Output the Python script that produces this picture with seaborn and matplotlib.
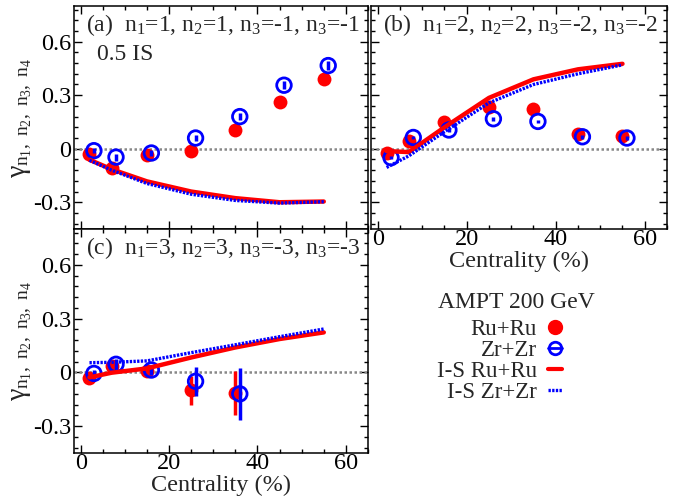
import matplotlib
matplotlib.use("Agg")
import matplotlib.pyplot as plt
from matplotlib.lines import Line2D
from matplotlib.ticker import FixedLocator, FixedFormatter, MultipleLocator
import seaborn as sns

# ---- data -------------------------------------------------------------
# centrality positions (%); Zr+Zr points shifted by 1% for visibility
cent_ru = [2, 7, 15, 25, 35, 45, 55]
cent_zr = [3, 8, 16, 26, 36, 46, 56]
cent_is = [2, 7, 15, 25, 35, 45, 55]

# (a) n = (1, 1, -1, -1), 0.5 IS
a_ru = [-0.028, -0.108, -0.034, -0.010, 0.107, 0.262, 0.390]
a_ru_err = [0.010, 0.010, 0.010, 0.012, 0.012, 0.015, 0.020]
a_zr = [-0.011, -0.047, -0.024, 0.060, 0.180, 0.356, 0.466]
a_zr_err = [0.015, 0.020, 0.015, 0.018, 0.020, 0.022, 0.025]
a_is_ru = [-0.062, -0.115, -0.183, -0.240, -0.277, -0.300, -0.296]
a_is_zr = [-0.065, -0.120, -0.195, -0.255, -0.290, -0.305, -0.297]

# (b) n = (2, 2, -2, -2)
b_ru = [-0.026, 0.045, 0.149, 0.234, 0.221, 0.080, 0.071]
b_ru_err = [0.008, 0.008, 0.008, 0.008, 0.008, 0.008, 0.008]
b_zr = [-0.050, 0.063, 0.105, 0.168, 0.153, 0.067, 0.060]
b_zr_err = [0.010, 0.010, 0.010, 0.010, 0.010, 0.010, 0.010]
b_is_ru = [-0.013, -0.019, 0.120, 0.285, 0.389, 0.445, 0.476]
b_is_zr = [-0.105, -0.040, 0.095, 0.257, 0.360, 0.420, 0.470]

# (c) n = (3, 3, -3, -3), five centrality bins
c_ru = [-0.034, 0.035, 0.008, -0.100, -0.115]
c_ru_err = [0.015, 0.030, 0.030, 0.080, 0.125]
c_zr = [-0.006, 0.045, 0.013, -0.050, -0.120]
c_zr_err = [0.020, 0.030, 0.030, 0.082, 0.145]
c_is_ru = [-0.028, -0.002, 0.022, 0.083, 0.139, 0.186, 0.223]
c_is_zr = [0.054, 0.056, 0.064, 0.110, 0.154, 0.199, 0.242]

y_ticks = [-0.3, 0, 0.3, 0.6]
y_tick_labels = ["-0.3", "0", "0.3", "0.6"]
x_ticks = [0, 20, 40, 60]
x_tick_labels = ["0", "20", "40", "60"]

titles = [
    "(a)  n$_1$=1, n$_2$=1, n$_3$=-1, n$_3$=-1",
    "(b)  n$_1$=2, n$_2$=2, n$_3$=-2, n$_3$=-2",
    "(c)  n$_1$=3, n$_2$=3, n$_3$=-3, n$_3$=-3",
]
ylabel = r"$\gamma_{n_1,\ n_2,\ n_3,\ n_4}$"
xlabel = "Centrality (%)"
legend_title = "AMPT 200 GeV"
legend_labels = ["Ru+Ru", "Zr+Zr", "I-S Ru+Ru", "I-S Zr+Zr"]

# ---- style ------------------------------------------------------------
sns.set_theme(style="ticks")
plt.rcParams.update({
    "font.family": ["Liberation Serif", "DejaVu Serif"],
    "mathtext.fontset": "custom",
    "mathtext.rm": "Liberation Serif",
    "mathtext.it": "Liberation Serif",
    "mathtext.bf": "Liberation Serif:bold",
    "axes.unicode_minus": False,
    "axes.linewidth": 1.1,
    "axes.edgecolor": "black",
})

RED = "#ff0000"
BLUE = "#0000ff"

fig = plt.figure(figsize=(6.96, 4.97), dpi=100)
W, H = 696.0, 497.0
ax_a = fig.add_axes([74 / W, 1 - 229 / H, 294 / W, 223 / H])
ax_c = fig.add_axes([74 / W, 1 - 453 / H, 294 / W, 224 / H])
ax_b = fig.add_axes([371 / W, 1 - 229 / H, 296 / W, 223 / H])


def draw_panel(ax, x_ru, ru, ru_err, x_zr, zr, zr_err, is_ru, is_zr, title):
    ax.axhline(0, color="#888888", lw=1.8, ls=(0, (1, 1)), zorder=1)
    ax.errorbar(x_ru, ru, yerr=ru_err, fmt="none", ecolor=RED,
                elinewidth=2.5, capsize=0, zorder=2)
    sns.scatterplot(x=x_ru, y=ru, ax=ax, color=RED, s=100, marker="o",
                    linewidth=0, zorder=3)
    ax.errorbar(x_zr, zr, yerr=zr_err, fmt="none", ecolor=BLUE,
                elinewidth=2.5, capsize=0, zorder=4)
    sns.scatterplot(x=x_zr, y=zr, ax=ax, marker="o", s=110,
                    facecolors="none", edgecolors=BLUE, linewidth=2.0,
                    zorder=5)
    sns.lineplot(x=cent_is, y=is_ru, ax=ax, color=RED, lw=3.2, zorder=6)
    sns.lineplot(x=cent_is, y=is_zr, ax=ax, color=BLUE, lw=2.4,
                 ls=(0, (0.7, 0.4)), zorder=7)
    ax.text(0.04, 0.975, title, transform=ax.transAxes, ha="left",
            va="top", fontsize=17)

    ax.set_xlim(-1.5, 65)
    ax.set_ylim(-0.45, 0.8)
    ax.xaxis.set_major_locator(FixedLocator(x_ticks))
    ax.xaxis.set_major_formatter(FixedFormatter(x_tick_labels))
    ax.xaxis.set_minor_locator(MultipleLocator(5))
    ax.yaxis.set_major_locator(FixedLocator(y_ticks))
    ax.yaxis.set_major_formatter(FixedFormatter(y_tick_labels))
    ax.yaxis.set_minor_locator(MultipleLocator(0.06))
    ax.tick_params(which="both", direction="in", top=True, right=True,
                   width=1.0, labelsize=17.5, colors="black")
    ax.tick_params(which="major", length=5.5)
    ax.tick_params(which="minor", length=3)
    ax.tick_params(axis="x", pad=0.3)
    ax.tick_params(axis="y", pad=2)
    ax.set_xlabel("")
    ax.set_ylabel("")


draw_panel(ax_a, cent_ru, a_ru, a_ru_err, cent_zr, a_zr, a_zr_err,
           a_is_ru, a_is_zr, titles[0])
draw_panel(ax_b, cent_ru, b_ru, b_ru_err, cent_zr, b_zr, b_zr_err,
           b_is_ru, b_is_zr, titles[1])
draw_panel(ax_c, cent_ru[:5], c_ru, c_ru_err, cent_zr[:5], c_zr, c_zr_err,
           c_is_ru, c_is_zr, titles[2])

ax_a.text(0.077, 0.83, "0.5 IS", transform=ax_a.transAxes, ha="left",
          va="top", fontsize=17)

ax_a.tick_params(axis="x", labelbottom=False)
ax_b.tick_params(axis="y", labelleft=False)

for ax in (ax_a, ax_c):
    ax.set_ylabel(ylabel, fontsize=20, labelpad=-1)
for ax in (ax_b, ax_c):
    ax.set_xlabel(xlabel, fontsize=17.5, labelpad=0)

# ---- legend -----------------------------------------------------------
handles = [
    Line2D([], [], ls="none", marker="o", color=RED, markersize=10),
    Line2D([], [], ls="-", lw=2.0, color=BLUE, marker="o", mfc="none",
           mec=BLUE, mew=2.0, markersize=9),
    Line2D([], [], color=RED, lw=3.0),
    Line2D([], [], color=BLUE, lw=2.4, ls=(0, (0.7, 0.4))),
]
fig.text(438 / W, 1 - 303 / H, legend_title, ha="left", va="center",
         fontsize=17)
fig.legend(handles, legend_labels, loc="upper right",
           bbox_to_anchor=(562 / W, 1 - 319 / H), markerfirst=False,
           frameon=False, fontsize=16.5, handlelength=0.6,
           handletextpad=0.5, labelspacing=0.0, borderpad=0,
           borderaxespad=0)

fig.savefig("out.png", dpi=100)
